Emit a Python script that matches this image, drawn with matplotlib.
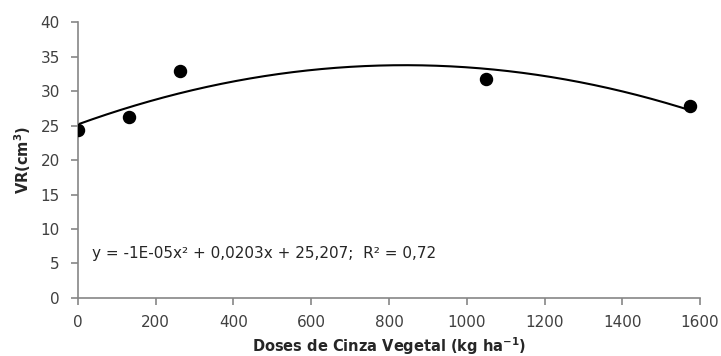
import numpy as np
import matplotlib
matplotlib.use("Agg")
import matplotlib.pyplot as plt

plt.rcParams['font.family'] = ['DejaVu Sans']
plt.rcParams['mathtext.fontset'] = 'dejavusans'

doses = [0, 131, 262, 1050, 1575]
vr = [24.3, 26.2, 32.9, 31.7, 27.8]
xticks = [0, 200, 400, 600, 800, 1000, 1200, 1400, 1600]
yticks = [0, 5, 10, 15, 20, 25, 30, 35, 40]

coef = np.polyfit(doses, vr, 2)
xs = np.linspace(min(doses), max(doses), 300)
ys = np.polyval(coef, xs)

fig = plt.figure(figsize=(7.21, 3.56), dpi=100)
ax = fig.add_axes([0.108, 0.163, 0.863, 0.775])
ax.plot(xs, ys, color='black', lw=1.5, zorder=2)
ax.scatter(doses, vr, s=75, color='black', zorder=3)

ax.set_xlim(0, 1600)
ax.set_ylim(0, 40)
ax.set_xticks(xticks)
ax.set_yticks(yticks)
for s in ['top', 'right']:
    ax.spines[s].set_visible(False)
for s in ['left', 'bottom']:
    ax.spines[s].set_color('#868686')
    ax.spines[s].set_linewidth(1.2)
ax.tick_params(axis='both', colors='#868686', labelcolor='#404040', labelsize=11, length=5, width=1.2)
ax.tick_params(axis='y', pad=8)
ax.tick_params(axis='x', pad=7)

ax.set_xlabel('Doses de Cinza Vegetal (kg ha$^{\\mathbf{-1}}$)', fontsize=10.5, fontweight='bold', color='#262626', labelpad=4)
ax.set_ylabel('VR(cm$^{\\mathbf{3}}$)', fontsize=10.5, fontweight='bold', color='#262626', labelpad=5)

ax.text(0.023, 0.16, 'y = -1E-05x² + 0,0203x + 25,207;  R² = 0,72',
        transform=ax.transAxes, fontsize=11, color='#262626', va='center', ha='left')

fig.savefig('out.png', dpi=100)
